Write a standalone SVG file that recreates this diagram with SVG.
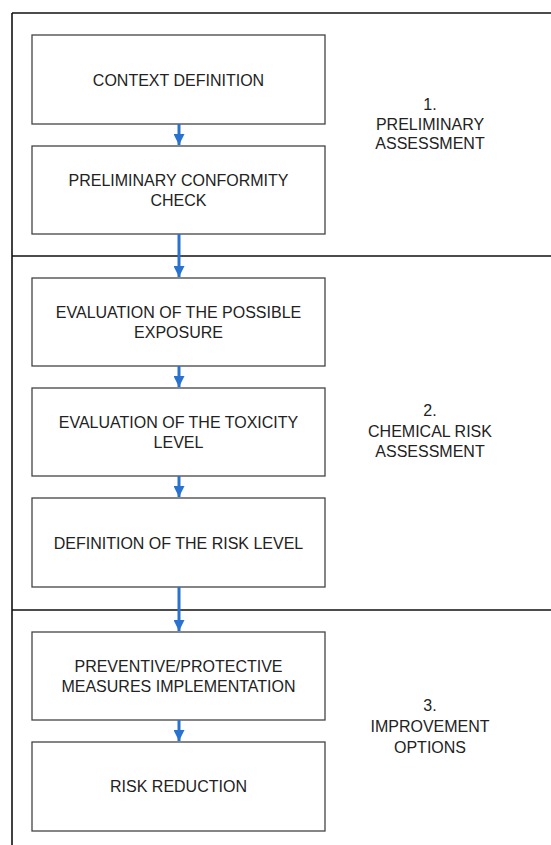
<svg xmlns="http://www.w3.org/2000/svg" width="551" height="845" viewBox="0 0 551 845">
<defs>
<style>
.frame{fill:none;stroke:#111;stroke-width:1.6}
.box rect{fill:#fff;stroke:#444;stroke-width:1.3}
text{font-family:"Liberation Sans",Arial,sans-serif;font-size:16px;fill:#222;text-anchor:middle}
.conn line{stroke:#2a72cf;stroke-width:3}
</style>
<marker id="ah" viewBox="0 0 10 10" refX="10" refY="5" markerUnits="userSpaceOnUse" markerWidth="13" markerHeight="11" orient="auto">
<path d="M0,0 L10,5 L0,10 Z" fill="#2a72cf"/>
</marker>
</defs>
<rect width="551" height="845" fill="#fff"/>
<g id="frame">
<line class="frame" x1="12" y1="13" x2="551" y2="13"/>
<line class="frame" x1="12" y1="13" x2="12" y2="845"/>
<line class="frame" x1="12" y1="256" x2="551" y2="256"/>
<line class="frame" x1="12" y1="610" x2="551" y2="610"/>
</g>
<g id="sec1"><text x="430" y="110">1.</text><text x="430" y="130">PRELIMINARY</text><text x="430" y="149">ASSESSMENT</text></g>
<g id="sec2"><text x="430" y="416">2.</text><text x="430" y="437">CHEMICAL RISK</text><text x="430" y="457">ASSESSMENT</text></g>
<g id="sec3"><text x="430" y="711">3.</text><text x="430" y="732">IMPROVEMENT</text><text x="430" y="753">OPTIONS</text></g>
<g id="n1" class="box"><rect x="32" y="35" width="293" height="89"/><text x="178.5" y="86">CONTEXT DEFINITION</text></g>
<g id="n2" class="box"><rect x="32" y="146" width="293" height="88"/><text x="178.5" y="186">PRELIMINARY CONFORMITY</text><text x="178.5" y="206">CHECK</text></g>
<g id="n3" class="box"><rect x="32" y="278" width="293" height="88"/><text x="178.5" y="318">EVALUATION OF THE POSSIBLE</text><text x="178.5" y="338">EXPOSURE</text></g>
<g id="n4" class="box"><rect x="32" y="388" width="293" height="88"/><text x="178.5" y="428">EVALUATION OF THE TOXICITY</text><text x="178.5" y="448">LEVEL</text></g>
<g id="n5" class="box"><rect x="32" y="498" width="293" height="89"/><text x="178.5" y="549">DEFINITION OF THE RISK LEVEL</text></g>
<g id="n6" class="box"><rect x="32" y="632" width="293" height="88"/><text x="178.5" y="672">PREVENTIVE/PROTECTIVE</text><text x="178.5" y="692">MEASURES IMPLEMENTATION</text></g>
<g id="n7" class="box"><rect x="32" y="742" width="293" height="89"/><text x="178.5" y="792">RISK REDUCTION</text></g>
<g id="connectors" class="conn">
<line x1="179" y1="124" x2="179" y2="145" marker-end="url(#ah)"/>
<line x1="179" y1="234" x2="179" y2="277" marker-end="url(#ah)"/>
<line x1="179" y1="366" x2="179" y2="387" marker-end="url(#ah)"/>
<line x1="179" y1="476" x2="179" y2="497" marker-end="url(#ah)"/>
<line x1="179" y1="587" x2="179" y2="631" marker-end="url(#ah)"/>
<line x1="179" y1="720" x2="179" y2="741" marker-end="url(#ah)"/>
</g>
</svg>
